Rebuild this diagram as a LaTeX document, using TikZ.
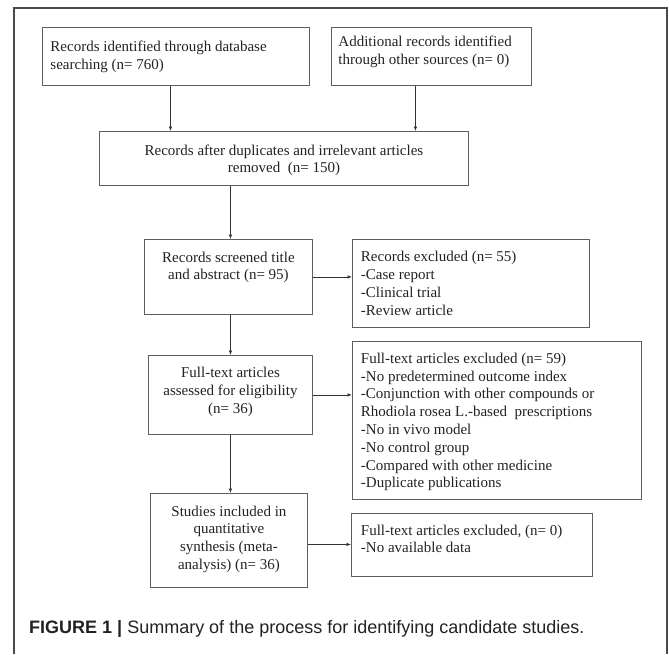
\documentclass[tikz,border=0pt]{standalone}
\usepackage{fontspec}
\setmainfont{Liberation Serif}
\newfontfamily\capfont{Liberation Sans}
\usetikzlibrary{arrows.meta,calc}
\definecolor{framegray}{HTML}{4A4A4A}
\definecolor{boxgray}{HTML}{5E5E5E}
\definecolor{arrgray}{HTML}{333333}
\definecolor{txtgray}{HTML}{222222}
\newcommand\bxc[5]{\parbox[c][#2pt][t]{#1pt}{\vspace*{#3pt}#4\strut #5\par}}
\tikzset{
  bx/.style={draw=boxgray, line width=0.9pt, inner sep=0pt, anchor=north west,
    text=txtgray, font=\fontsize{15}{17.8}\selectfont},
  arr/.style={draw=arrgray, line width=0.8pt, -{Latex[length=4.5pt,width=3.6pt]}},
  frm/.style={draw=framegray, line width=1.3pt},
  capstyle/.style={anchor=base west, inner sep=0pt, text=txtgray,
    font=\capfont\fontsize{18}{20}\selectfont}
}
\begin{document}
\begin{tikzpicture}[x=1pt,y=-1pt]
\useasboundingbox (0,0) rectangle (669,654);
\draw[frm] (14,654) -- (14,8) -- (667,8) -- (667,654);

\node[bx] (b1) at (42,27) {\bxc{267}{58}{11.8}{\raggedright\leftskip=8pt}{Records identified through database\\searching (n= 760)}};
\node[bx] (b2) at (331,27) {\bxc{200}{58}{6.8}{\raggedright\leftskip=7pt}{Additional records identified\\through other sources (n= 0)}};
\node[bx] (b3) at (99,131) {\bxc{369}{54}{11.1}{\centering}{Records after duplicates and irrelevant articles\\removed\ \ (n= 150)}};
\node[bx] (b4) at (144,239) {\bxc{168}{75}{10.1}{\centering}{Records screened title\\and abstract (n= 95)}};
\node[bx] (b5) at (352,239) {\bxc{237}{88}{9.8}{\raggedright\leftskip=8.5pt}{Records excluded (n= 55)\\-Case report\\-Clinical trial\\-Review article}};
\node[bx] (b6) at (148,355) {\bxc{164}{79}{9.8}{\centering}{Full-text articles\\assessed for eligibility\\(n= 36)}};
\node[bx] (b7) at (352,341) {\bxc{289}{158}{9.4}{\raggedright\leftskip=8.5pt}{Full-text articles excluded (n= 59)\\-No predetermined outcome index\\-Conjunction with other compounds or\\Rhodiola rosea L.-based\ \ prescriptions\\-No in vivo model\\-No control group\\-Compared with other medicine\\-Duplicate publications}};
\node[bx] (b8) at (150,493) {\bxc{157}{94}{10.1}{\centering}{Studies included in\\quantitative\\synthesis (meta-\\analysis) (n= 36)}};
\node[bx] (b9) at (351,513) {\bxc{241}{63}{9.1}{\raggedright\leftskip=9.5pt}{Full-text articles excluded, (n= 0)\\-No available data}};

\draw[arr] ([xshift=-5.5pt]b1.south) -- ([xshift=-5.5pt]b1.south |- b3.north);
\draw[arr] ([xshift=-16pt]b2.south) -- ([xshift=-16pt]b2.south |- b3.north);
\draw[arr] ([xshift=2pt]b4.north |- b3.south) -- ([xshift=2pt]b4.north);
\draw[arr] (b6.north |- b4.south) -- (b6.north);
\draw[arr] ([xshift=1.5pt]b8.north |- b6.south) -- ([xshift=1.5pt]b8.north);
\draw[arr] (b4.east) -- (b4.east -| b5.west);
\draw[arr] (b6.east) -- (b6.east -| b7.west);
\draw[arr] ([yshift=-4pt]b8.east) -- ([yshift=-4pt]b8.east -| b9.west);

\node[capstyle] (capt) at (29,633) {\textbf{FIGURE 1 |} Summary of the process for identifying candidate studies.};
\end{tikzpicture}
\end{document}
